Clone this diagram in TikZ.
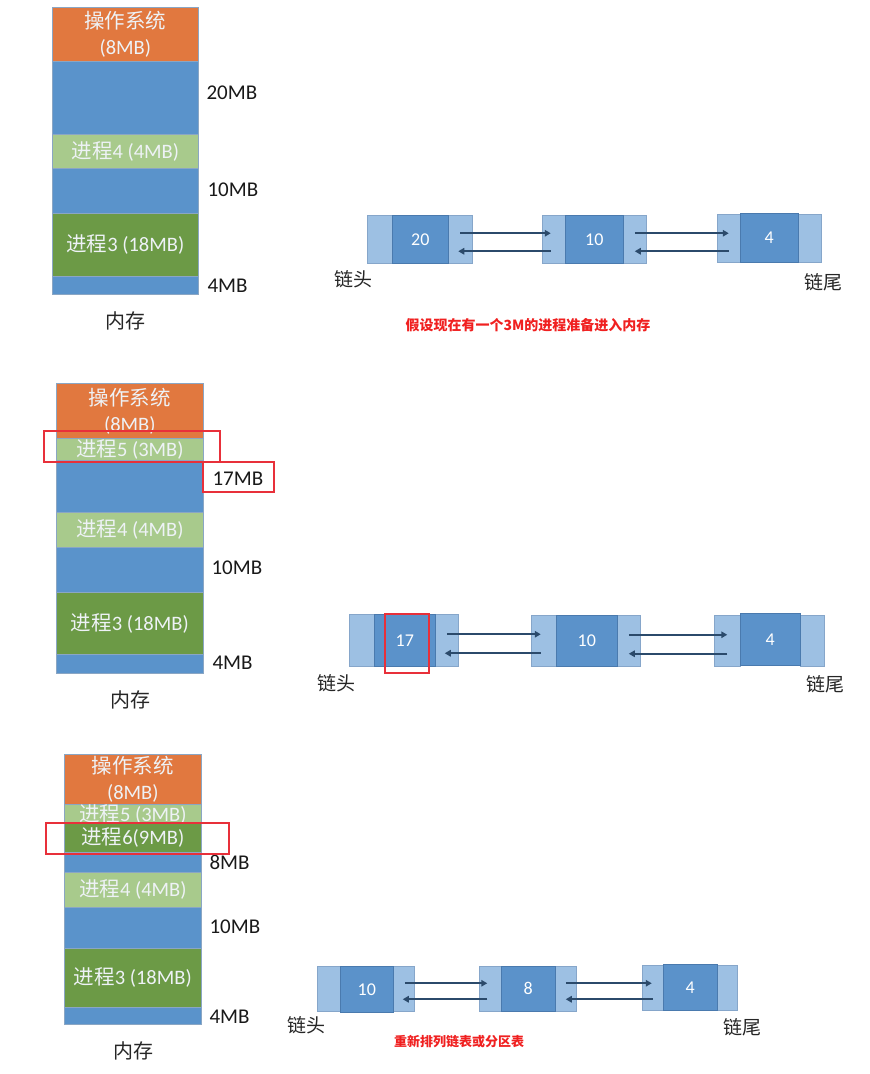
\documentclass[tikz,border=0pt]{standalone}
\usepackage{fontspec}
\setmainfont{Carlito}
\newfontfamily\cjk{Noto Sans CJK SC}
\newcommand\zh[1]{{\cjk #1}}
\usetikzlibrary{arrows.meta}
\definecolor{osorange}{HTML}{E1783F}
\definecolor{memblue}{HTML}{5A93CB}
\definecolor{lgreen}{HTML}{A8CA8C}
\definecolor{dgreen}{HTML}{6C9A46}
\definecolor{memline}{HTML}{8AA6C4}
\definecolor{memtext}{HTML}{EEF2F6}
\definecolor{celllight}{HTML}{9DC0E3}
\definecolor{cellline}{HTML}{86A6CA}
\definecolor{valblue}{HTML}{5B92CA}
\definecolor{valline}{HTML}{4A7AAE}
\definecolor{arrcol}{HTML}{2B4A6B}
\definecolor{redmark}{HTML}{E8303A}
\definecolor{redtext}{HTML}{F02020}
\tikzset{
  mem/.style={draw=memline, line width=0.6pt, inner sep=0pt, anchor=north west,
    text=memtext, align=center, font=\fontsize{20.5}{26}\selectfont},
  cell/.style={draw=cellline, fill=celllight, line width=0.5pt, inner sep=0pt, anchor=north west},
  val/.style={draw=valline, fill=valblue, line width=0.5pt, inner sep=0pt, anchor=north west,
    text=white, font=\fontsize{18}{20}\selectfont},
  arr/.style={draw=arrcol, line width=1.9pt, -{Triangle[length=6pt,width=6.5pt]}},
  size/.style={anchor=west, text=black!90, font=\fontsize{21}{24}\selectfont},
  zhcap/.style={text=black!85, font=\cjk\fontsize{19}{22}\selectfont},
  redbox/.style={draw=redmark, line width=1.6pt},
  note/.style={text=redtext, font=\cjk\bfseries\fontsize{14}{16}\selectfont}
}
\begin{document}
\begin{tikzpicture}[x=1pt,y=-1pt]
\useasboundingbox[fill=white] (0,0) rectangle (870,1074);

% ===== Panel 1 memory =====
\node[mem, fill=osorange, minimum width=146pt, minimum height=54pt] (os1) at (52,7) {\zh{操作系统}\\(8MB)};
\node[mem, fill=memblue, minimum width=146pt, minimum height=73pt] (fa1) at (52,61) {};
\node[mem, fill=lgreen, minimum width=146pt, minimum height=34pt] (pa4) at (52,134) {\zh{进程}4 (4MB)};
\node[mem, fill=memblue, minimum width=146pt, minimum height=45pt] (fb1) at (52,168) {};
\node[mem, fill=dgreen, minimum width=146pt, minimum height=63pt] (pa3) at (52,213) {\zh{进程}3 (18MB)};
\node[mem, fill=memblue, minimum width=146pt, minimum height=18pt] (fc1) at (52,276) {};
\node[size] (la1) at (203,93) {20MB};
\node[size] (lb1) at (204,190) {10MB};
\node[size] (lc1) at (204,286) {4MB};
\node[zhcap, font=\cjk\fontsize{20}{22}\selectfont] (mem1) at (125,321) {内存};

% ===== Panel 1 list =====
\node[cell, minimum width=25pt, minimum height=48pt] (a1l) at (367,215) {};
\node[cell, minimum width=24pt, minimum height=48pt] (a1r) at (448,215) {};
\node[val, minimum width=56pt, minimum height=48pt] (a1v) at (392,215) {20};
\node[cell, minimum width=23pt, minimum height=48pt] (b1l) at (542,215) {};
\node[cell, minimum width=23pt, minimum height=48pt] (b1r) at (623,215) {};
\node[val, minimum width=58pt, minimum height=48pt] (b1v) at (565,215) {10};
\node[cell, minimum width=23pt, minimum height=48pt] (c1l) at (717,214) {};
\node[cell, minimum width=23pt, minimum height=48pt] (c1r) at (798,214) {};
\node[val, minimum width=58pt, minimum height=49pt] (c1v) at (740,213) {4};
\draw[arr] ([yshift=6pt]a1r.center) -- ([yshift=6pt,xshift=-3pt]a1r.center -| b1l.center);
\draw[arr] ([yshift=-12pt,xshift=-3pt]a1r.center -| b1l.center) -- ([yshift=-12pt,xshift=-2pt]a1r.center);
\draw[arr] ([yshift=6pt]b1r.center) -- ([yshift=6pt]b1r.center -| c1l.center);
\draw[arr] ([yshift=-12pt]b1r.center -| c1l.center) -- ([yshift=-12pt]b1r.center);
\node[zhcap] (h1) at (353,279) {链头};
\node[zhcap] (t1) at (823,282) {链尾};
\node[note] (n1) at (528,325) {假设现在有一个3M的进程准备进入内存};

% ===== Panel 2 memory =====
\node[mem, fill=osorange, minimum width=147pt, minimum height=55pt] (os2) at (56,383) {\zh{操作系统}\\(8MB)};
\node[mem, fill=lgreen, minimum width=147pt, minimum height=22pt] (pb5) at (56,438) {\zh{进程}5 (3MB)};
\node[mem, fill=memblue, minimum width=147pt, minimum height=52pt] (fa2) at (56,460) {};
\node[mem, fill=lgreen, minimum width=147pt, minimum height=35pt] (pb4) at (56,512) {\zh{进程}4 (4MB)};
\node[mem, fill=memblue, minimum width=147pt, minimum height=45pt] (fb2) at (56,547) {};
\node[mem, fill=dgreen, minimum width=147pt, minimum height=62pt] (pb3) at (56,592) {\zh{进程}3 (18MB)};
\node[mem, fill=memblue, minimum width=147pt, minimum height=19pt] (fc2) at (56,654) {};
\node[size] (la2) at (209,479) {17MB};
\node[size] (lb2) at (208,568) {10MB};
\node[size] (lc2) at (209,663) {4MB};
\node[zhcap, font=\cjk\fontsize{20}{22}\selectfont] (mem2) at (130,700) {内存};
\draw[redbox] (44,431) rectangle (220,462);
\draw[redbox] (203,462) rectangle (274,492);

% ===== Panel 2 list =====
\node[cell, minimum width=25pt, minimum height=52pt] (a2l) at (349,614) {};
\node[cell, minimum width=23pt, minimum height=52pt] (a2r) at (435,614) {};
\node[val, minimum width=61pt, minimum height=52pt] (a2v) at (374,614) {17};
\node[cell, minimum width=25pt, minimum height=51pt] (b2l) at (531,615) {};
\node[cell, minimum width=23pt, minimum height=51pt] (b2r) at (617,615) {};
\node[val, minimum width=61pt, minimum height=51pt] (b2v) at (556,615) {10};
\node[cell, minimum width=26pt, minimum height=51pt] (c2l) at (714,615) {};
\node[cell, minimum width=24pt, minimum height=51pt] (c2r) at (800,615) {};
\node[val, minimum width=60pt, minimum height=52pt] (c2v) at (740,613) {4};
\draw[redbox] (385,614) rectangle (429,673);
\draw[arr] ([yshift=6pt]a2r.center) -- ([yshift=6pt,xshift=-3pt]a2r.center -| b2l.center);
\draw[arr] ([yshift=-13pt,xshift=-3pt]a2r.center -| b2l.center) -- ([yshift=-13pt,xshift=-2pt]a2r.center);
\draw[arr] ([yshift=6pt]b2r.center) -- ([yshift=6pt]b2r.center -| c2l.center);
\draw[arr] ([yshift=-13pt]b2r.center -| c2l.center) -- ([yshift=-13pt]b2r.center);
\node[zhcap] (h2) at (336,683) {链头};
\node[zhcap] (t2) at (825,684) {链尾};

% ===== Panel 3 memory =====
\node[mem, fill=osorange, minimum width=137pt, minimum height=50pt] (os3) at (64,754) {\zh{操作系统}\\(8MB)};
\node[mem, fill=lgreen, minimum width=137pt, minimum height=19pt] (pc5) at (64,804) {\zh{进程}5 (3MB)};
\node[mem, fill=dgreen, minimum width=137pt, minimum height=29pt] (pc6) at (64,823) {\zh{进程}6(9MB)};
\node[mem, fill=memblue, minimum width=137pt, minimum height=20pt] (fa3) at (64,852) {};
\node[mem, fill=lgreen, minimum width=137pt, minimum height=35pt] (pc4) at (64,872) {\zh{进程}4 (4MB)};
\node[mem, fill=memblue, minimum width=137pt, minimum height=41pt] (fb3) at (64,907) {};
\node[mem, fill=dgreen, minimum width=137pt, minimum height=59pt] (pc3) at (64,948) {\zh{进程}3 (18MB)};
\node[mem, fill=memblue, minimum width=137pt, minimum height=17pt] (fc3) at (64,1007) {};
\node[size] (la3) at (206,862) {8MB};
\node[size] (lb3) at (206,927) {10MB};
\node[size] (lc3) at (206,1017) {4MB};
\node[zhcap, font=\cjk\fontsize{20}{22}\selectfont] (mem3) at (133,1051) {内存};
\draw[redbox] (46,823) rectangle (229,854);

% ===== Panel 3 list =====
\node[cell, minimum width=23pt, minimum height=45pt] (a3l) at (317,966) {};
\node[cell, minimum width=21pt, minimum height=45pt] (a3r) at (393,966) {};
\node[val, minimum width=53pt, minimum height=46pt] (a3v) at (340,966) {10};
\node[cell, minimum width=22pt, minimum height=45pt] (b3l) at (479,966) {};
\node[cell, minimum width=21pt, minimum height=45pt] (b3r) at (555,966) {};
\node[val, minimum width=54pt, minimum height=45pt] (b3v) at (501,966) {8};
\node[cell, minimum width=21pt, minimum height=45pt] (c3l) at (642,965) {};
\node[cell, minimum width=20pt, minimum height=45pt] (c3r) at (717,965) {};
\node[val, minimum width=54pt, minimum height=46pt] (c3v) at (663,964) {4};
\draw[arr] ([yshift=5.5pt,xshift=1pt]a3r.center) -- ([yshift=5.5pt,xshift=-3pt]a3r.center -| b3l.center);
\draw[arr] ([yshift=-10.5pt,xshift=-3pt]a3r.center -| b3l.center) -- ([yshift=-10.5pt,xshift=-1pt]a3r.center);
\draw[arr] ([yshift=5.5pt]b3r.center) -- ([yshift=5.5pt,xshift=-1pt]b3r.center -| c3l.center);
\draw[arr] ([yshift=-10.5pt]b3r.center -| c3l.center) -- ([yshift=-10.5pt]b3r.center);
\node[zhcap] (h3) at (306,1025) {链头};
\node[zhcap] (t3) at (742,1027) {链尾};
\node[note, font=\cjk\bfseries\fontsize{13}{15}\selectfont] (n3) at (459,1042) {重新排列链表或分区表};
\end{tikzpicture}
\end{document}
